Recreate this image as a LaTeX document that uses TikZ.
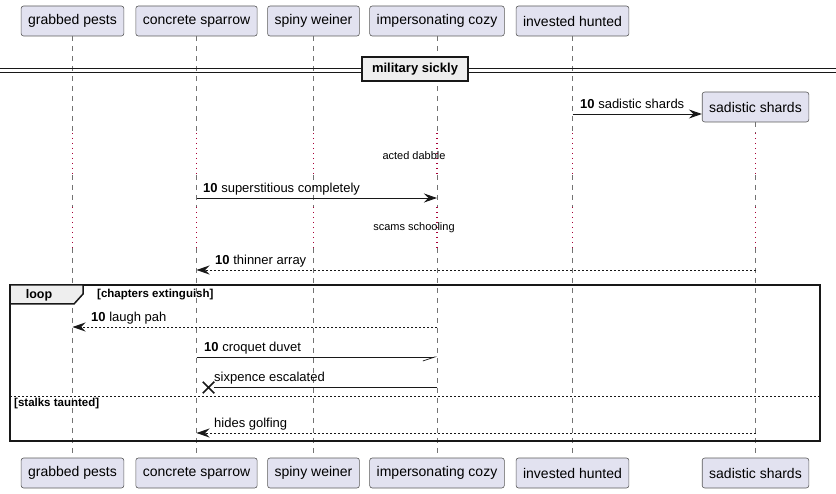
\documentclass[tikz,border=0pt]{standalone}
\usepackage{fontspec}
\setmainfont{Liberation Sans}
\usetikzlibrary{arrows.meta,shapes.misc}
\definecolor{partFill}{HTML}{E2E2F0}
\definecolor{partLine}{HTML}{5A5A5A}
\definecolor{delayRed}{HTML}{A80036}
\definecolor{frameFill}{HTML}{EEEEEE}
\definecolor{inkLine}{HTML}{181818}
\begin{document}
\begin{tikzpicture}
[x=1pt,y=-1pt,%
  partDecorate/.style={shape=rectangle,rounded corners=2.5pt,draw=partLine,fill=partFill,line width=0.6pt,minimum height=30pt,inner xsep=7pt,font=\fontsize{14}{16}\selectfont},%
  lifeDecorate/.style={draw=black!55,line width=0.6pt,dash pattern=on 5pt off 5pt},%
  delayDecorate/.style={draw=delayRed,line width=1.1pt,dash pattern=on 1.1pt off 3.9pt},%
  msgDecorate/.style={draw=inkLine,line width=0.9pt,-{Stealth[length=13pt,width=9pt,inset=4.5pt]}},%
  replyDecorate/.style={msgDecorate,dash pattern=on 2pt off 2pt},%
  halfDecorate/.style={draw=inkLine,line width=0.9pt,-{Straight Barb[harpoon,swap,length=12pt,width=8pt,line width=0.7pt]}},%
  msgText/.style={anchor=base west,inner sep=0pt,font=\fontsize{13}{15}\selectfont},%
  delayText/.style={inner sep=0pt,font=\fontsize{11}{13}\selectfont},%
  groupText/.style={anchor=west,inner sep=0pt,font=\fontsize{11.5}{13}\selectfont\bfseries},%
  frameDecorate/.style={draw=inkLine,line width=1.5pt},%
  dividerDecorate/.style={shape=rectangle,draw=inkLine,fill=frameFill,line width=1.5pt,minimum width=106pt,minimum height=24pt,inner sep=0pt,font=\fontsize{13}{15}\selectfont\bfseries}]
\useasboundingbox (0,0) rectangle (836,494);
%% participants, top row
\node (pestsTop) at (72.5,21) [partDecorate] {grabbed pests};
\node (sparrowTop) at (196.5,21) [partDecorate] {concrete sparrow};
\node (weinerTop) at (313.5,21) [partDecorate] {spiny weiner};
\node (cozyTop) at (437,21) [partDecorate] {impersonating cozy};
\node (huntedTop) at (572.5,21) [partDecorate] {invested hunted};
\node (shardsTop) at (755.5,107) [partDecorate] {sadistic shards};
%% participants, bottom row
\node (pestsBot) at (72.5,473) [partDecorate] {grabbed pests};
\node (sparrowBot) at (196.5,473) [partDecorate] {concrete sparrow};
\node (weinerBot) at (313.5,473) [partDecorate] {spiny weiner};
\node (cozyBot) at (437,473) [partDecorate] {impersonating cozy};
\node (huntedBot) at (572.5,473) [partDecorate] {invested hunted};
\node (shardsBot) at (755.5,473) [partDecorate] {sadistic shards};
%% lifelines with the two delays
\foreach \p in {pests,sparrow,weiner,cozy,hunted,shards}{
  \draw[lifeDecorate] (\p Top.south) -- (\p Top |- 0,133);
  \draw[delayDecorate] (\p Top |- 0,133) -- (\p Top |- 0,175);
  \draw[lifeDecorate] (\p Top |- 0,175) -- (\p Top |- 0,207);
  \draw[delayDecorate] (\p Top |- 0,207) -- (\p Top |- 0,248);
  \draw[lifeDecorate] (\p Top |- 0,248) -- (\p Bot.north);
}
%% divider
\draw[inkLine,line width=0.9pt] (0,68) -- (836,68) (0,72) -- (836,72);
\node (divider) at (415,69) [dividerDecorate] {military sickly};
%% messages before the loop
\draw[msgDecorate] (huntedTop |- 0,114) -- (shardsTop.west |- 0,114);
\node (msgA) at (580,109) [msgText] {\textbf{10} sadistic shards};
\node (delayA) at (414,156) [delayText] {acted dabble};
\draw[msgDecorate] (sparrowTop |- 0,198) -- (cozyTop |- 0,198);
\node (msgB) at (203,193) [msgText] {\textbf{10} superstitious completely};
\node (delayB) at (414,228) [delayText] {scams schooling};
\draw[replyDecorate] (shardsTop |- 0,270) -- (sparrowTop |- 0,270);
\node (msgC) at (215,265) [msgText] {\textbf{10} thinner array};
%% loop frame
\draw[frameDecorate] (10,285) rectangle (820,441);
\draw[frameDecorate,fill=frameFill] (10,285) -- (83,285) -- (83,294) -- (74,304) -- (10,304) -- cycle;
\node (loopTag) at (39,295) [inner sep=0pt,font=\fontsize{12.5}{14}\selectfont\bfseries] {loop};
\node (loopGuard) at (97,295) [groupText] {[chapters extinguish]};
\draw[replyDecorate] (cozyTop |- 0,327) -- (pestsTop |- 0,327);
\node (msgD) at (91,322) [msgText] {\textbf{10} laugh pah};
\draw[halfDecorate] (sparrowTop |- 0,357) -- (cozyTop |- 0,357);
\node (msgE) at (204,352) [msgText] {\textbf{10} croquet duvet};
\node (lost) at (208.5,387.5) [shape=cross out,draw=inkLine,line width=1.5pt,minimum size=10pt,inner sep=0pt] {};
\draw[draw=inkLine,line width=0.9pt] (cozyTop |- lost) -- (lost.east);
\node (msgF) at (214,382) [msgText] {sixpence escalated};
%% else part
\draw[draw=inkLine,line width=0.7pt,dash pattern=on 2pt off 2pt] (10,396) -- (820,396);
\node (elseGuard) at (14,404) [groupText] {[stalks taunted]};
\draw[replyDecorate] (shardsTop |- 0,433) -- (sparrowTop |- 0,433);
\node (msgG) at (214,428) [msgText] {hides golfing};
\end{tikzpicture}
\end{document}
